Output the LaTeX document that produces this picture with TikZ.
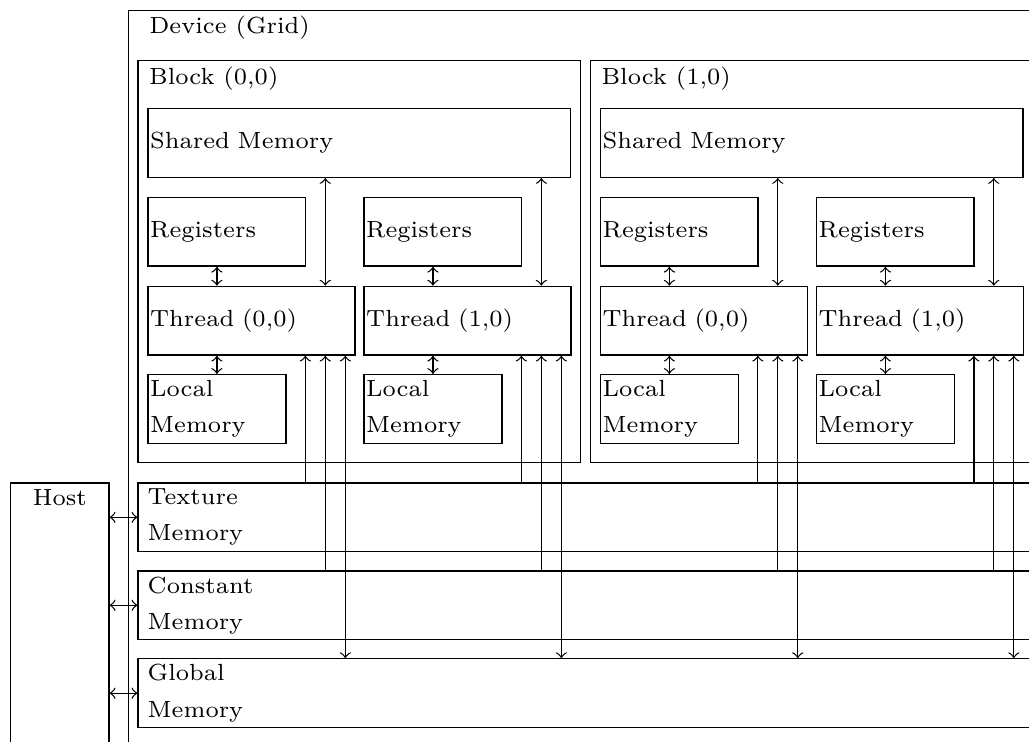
\documentclass[tikz,border=0pt]{standalone}
\begin{document}
\begin{tikzpicture}[font=\fontsize{7.3}{11.3}\selectfont, >=to,
  cont/.style={draw, anchor=north west, inner sep=0pt},
  mem/.style={draw, anchor=north west, inner xsep=0.7pt, inner ysep=0pt,
    minimum height=0.755cm, text width=#1, align=left},
  tag/.style={anchor=west, inner sep=0pt}]
\useasboundingbox (0,0) rectangle (11.303,-8.150);
\clip (0,0) rectangle (11.303,-8.150);
% device and host
\node[cont, minimum width=10.5cm, minimum height=8.5cm] (dev) at (1.403,-0.110) {};
\node[tag] (devtag) at ([shift={(0.231,-0.198)}]dev.north west) {Device (Grid)};
\node[cont, minimum width=1.080cm, minimum height=3.5cm] (host) at (0.110,-5.298) {};
\node[inner sep=0pt] (hosttag) at ([yshift=-0.165cm]host.north) {Host};
% blocks
\foreach \i in {0,1} {
  \node[cont, minimum width=4.861cm, minimum height=4.416cm] (blk\i) at (1.510+4.970*\i,-0.659) {};
  \node[tag] (blktag\i) at ([shift={(0.121,-0.209)}]blk\i.north west) {Block (\i,0)};
  \node[mem=4.593cm] (shm\i) at ([shift={(0.108,-0.527)}]blk\i.north west) {Shared Memory};
  \foreach \j in {0,1} {
    \node[mem=1.682cm] (reg\i\j) at ([shift={(0.108+2.373*\j,-1.502)}]blk\i.north west) {Registers};
    \node[mem=2.224cm] (thr\i\j) at ([shift={(0.108+2.373*\j,-2.479)}]blk\i.north west) {Thread (\j,0)};
    \node[mem=1.466cm] (loc\i\j) at ([shift={(0.108+2.373*\j,-3.449)}]blk\i.north west) {Local\\Memory};
  }
}
% device memories
\foreach \y/\nm/\txt in {-5.298/tex/Texture, -6.264/cst/Constant, -7.230/glb/Global} {
  \node[mem=10cm, inner xsep=3pt] (\nm) at (1.510,\y) {\txt\\Memory};
  \draw[<->] (host.east |- \nm.west) -- (\nm.west);
}
% links
\foreach \i in {0,1} \foreach \j in {0,1} {
  \coordinate (a\i\j) at ([xshift=-0.551cm]thr\i\j.south east);
  \coordinate (b\i\j) at ([xshift=-0.332cm]thr\i\j.south east);
  \coordinate (c\i\j) at ([xshift=-0.112cm]thr\i\j.south east);
  \draw[<->] (reg\i\j.south -| loc\i\j.north) -- (thr\i\j.north -| loc\i\j.north);
  \draw[<->] (thr\i\j.south -| loc\i\j.north) -- (loc\i\j.north);
  \draw[<->] (shm\i.south -| b\i\j) -- (thr\i\j.north -| b\i\j);
  \draw[<-] (a\i\j) -- (a\i\j |- tex.north);
  \draw[<-] (b\i\j) -- (b\i\j |- cst.north);
  \draw[<->] (c\i\j) -- (c\i\j |- glb.north);
}
\end{tikzpicture}
\end{document}
